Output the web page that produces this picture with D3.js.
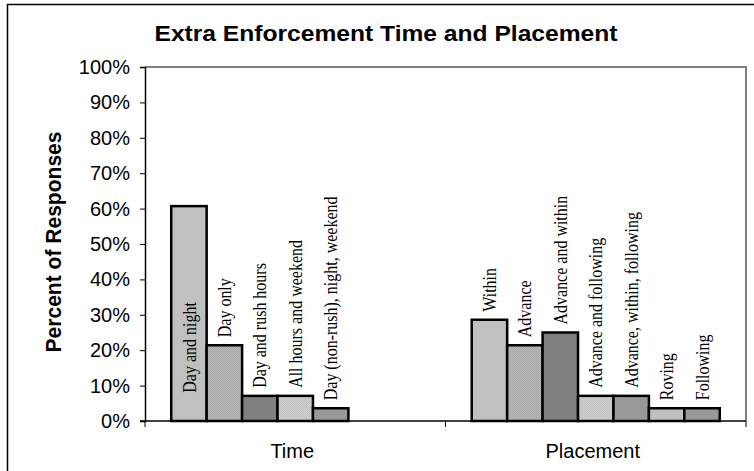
<!DOCTYPE html>
<html>
<head>
<script src="https://cdn.jsdelivr.net/npm/d3@7"></script>
  <meta charset="utf-8">
  <title>Extra Enforcement Time and Placement</title>
  <style>
    body { margin: 0; background: #fff; }
    svg { display: block; }
  </style>
</head>
<body>
  <div id="chartArea"></div>
  <script>
  var categories = ['Time', 'Placement'];

  var timeLabels = ['Day and night', 'Day only', 'Day and rush hours',
    'All hours and weekend', 'Day (non-rush), night, weekend'];
  var timeValues = [60.7, 21.4, 7.1, 7.1, 3.6];

  var placementLabels = ['Within', 'Advance', 'Advance and within',
    'Advance and following', 'Advance, within, following', 'Roving', 'Following'];
  var placementValues = [28.6, 21.4, 25.0, 7.1, 7.1, 3.6, 3.6];

  var yTicks = [0, 10, 20, 30, 40, 50, 60, 70, 80, 90, 100];

  // fill for each of the 7 series slots
  var slotFills = ['#c0c0c0', 'url(#dotMid)', '#808080', 'url(#dotLight)', '#999999', '#c0c0c0', '#999999'];

  var width = 754, height = 471;

  var svg = d3.select('#chartArea')
    .append('svg')
    .attr('width', width)
    .attr('height', height);

  var defs = svg.append('defs');
  function dotPattern(id, bg, dot) {
    var p = defs.append('pattern')
      .attr('id', id)
      .attr('width', 2).attr('height', 2)
      .attr('patternUnits', 'userSpaceOnUse');
    p.append('rect').attr('width', 2).attr('height', 2).attr('fill', bg);
    p.append('rect').attr('width', 1).attr('height', 1).attr('fill', dot);
    p.append('rect').attr('x', 1).attr('y', 1).attr('width', 1).attr('height', 1).attr('fill', dot);
  }
  dotPattern('dotMid', '#b9b9b9', '#a9a9a9');
  dotPattern('dotLight', '#d0d0d0', '#c2c2c2');

  // outer border
  svg.append('rect')
    .attr('x', 7.5).attr('y', 4.5)
    .attr('width', 760).attr('height', 480)
    .attr('fill', 'none').attr('stroke', '#000').attr('stroke-width', 1.5);

  var x0 = 145, x1 = 746, yTop = 67, yBot = 421;

  var x = d3.scaleBand().domain(categories).range([x0, x1]);
  var slot = d3.scaleBand().domain(d3.range(7)).range([0, x.bandwidth()]).paddingOuter(0.74);
  var y = d3.scaleLinear().domain([0, 100]).range([yBot, yTop]);

  // plot area border (top and right)
  svg.append('path')
    .attr('d', 'M' + x0 + ',' + yTop + 'H' + x1 + 'V' + yBot)
    .attr('fill', 'none').attr('stroke', '#808080').attr('stroke-width', 2);

  var bars = [];
  timeValues.forEach(function(v, i) {
    bars.push({ cat: 'Time', slot: i, value: v, label: timeLabels[i] });
  });
  placementValues.forEach(function(v, i) {
    bars.push({ cat: 'Placement', slot: i, value: v, label: placementLabels[i] });
  });

  svg.selectAll('rect.bar')
    .data(bars)
    .enter()
    .append('rect')
    .attr('class', 'bar')
    .attr('x', function(d) { return x(d.cat) + slot(d.slot); })
    .attr('y', function(d) { return y(d.value); })
    .attr('width', slot.bandwidth())
    .attr('height', function(d) { return yBot - y(d.value); })
    .attr('fill', function(d) { return slotFills[d.slot]; })
    .attr('stroke', '#000')
    .attr('stroke-width', 2.5);

  svg.selectAll('text.lbl')
    .data(bars)
    .enter()
    .append('text')
    .attr('class', 'lbl')
    .attr('transform', function(d) {
      var cx = x(d.cat) + slot(d.slot) + slot.bandwidth() / 2;
      var ly = d.value > 50 ? y(8) : y(d.value) - 8;
      return 'translate(' + cx + ',' + ly + ') scale(1.18,1) rotate(-90)';
    })
    .attr('dy', '0.35em')
    .attr('font-family', '"Liberation Serif", "Times New Roman", serif')
    .attr('font-size', 16)
    .attr('fill', '#000')
    .text(function(d) { return d.label; });

  // y axis
  var yAxis = d3.axisLeft(y)
    .tickValues(yTicks)
    .tickSize(5)
    .tickPadding(10)
    .tickFormat(function(d) { return d + '%'; });
  var gy = svg.append('g')
    .attr('transform', 'translate(' + x0 + ',0)')
    .call(yAxis);
  gy.select('.domain').attr('stroke', '#000').attr('stroke-width', 1.5);
  gy.selectAll('.tick line').attr('stroke', '#000');
  gy.selectAll('.tick text')
    .attr('font-family', 'Arial, "Liberation Sans", sans-serif')
    .attr('font-size', 20)
    .attr('fill', '#000');

  // x axis
  var gx = svg.append('g')
    .attr('transform', 'translate(0,' + yBot + ')');
  gx.append('line')
    .attr('x1', x0 - 5).attr('x2', x1)
    .attr('stroke', '#000').attr('stroke-width', 1.5);
  gx.selectAll('line.tk')
    .data([x0, x0 + x.bandwidth(), x1])
    .enter()
    .append('line')
    .attr('class', 'tk')
    .attr('x1', function(d) { return d; }).attr('x2', function(d) { return d; })
    .attr('y1', 0).attr('y2', 6)
    .attr('stroke', '#000');
  gx.selectAll('text')
    .data(categories)
    .enter()
    .append('text')
    .attr('x', function(d) { return x(d) + x.bandwidth() / 2 - 3; })
    .attr('y', 37)
    .attr('text-anchor', 'middle')
    .attr('font-family', 'Arial, "Liberation Sans", sans-serif')
    .attr('font-size', 20)
    .text(function(d) { return d; });

  // titles
  svg.append('text')
    .attr('x', 386).attr('y', 41)
    .attr('text-anchor', 'middle')
    .attr('font-family', 'Arial, "Liberation Sans", sans-serif')
    .attr('font-weight', 'bold')
    .attr('font-size', 22)
    .attr('textLength', 463)
    .attr('lengthAdjust', 'spacingAndGlyphs')
    .text('Extra Enforcement Time and Placement');

  svg.append('text')
    .attr('transform', 'translate(61,242) rotate(-90)')
    .attr('text-anchor', 'middle')
    .attr('font-family', 'Arial, "Liberation Sans", sans-serif')
    .attr('font-weight', 'bold')
    .attr('font-size', 22)
    .attr('textLength', 221)
    .attr('lengthAdjust', 'spacingAndGlyphs')
    .text('Percent of Responses');
  </script>
</body>
</html>
